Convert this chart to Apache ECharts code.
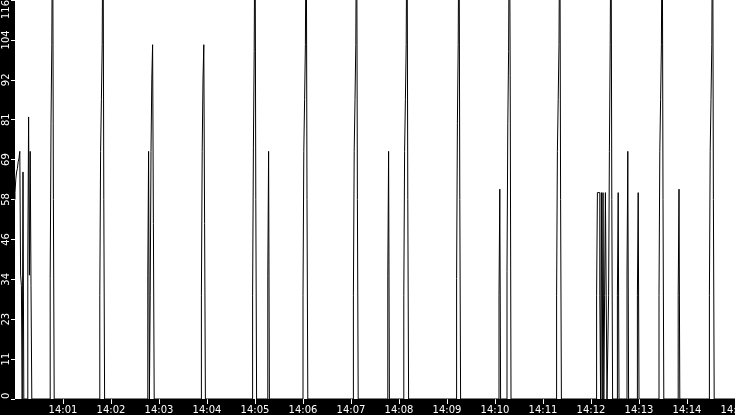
<!DOCTYPE html>
<html>
  <head>
    <meta charset="utf-8" />
    <script src="https://cdn.jsdelivr.net/npm/echarts@6/dist/echarts.min.js"></script>
    <style>
      html, body { margin: 0; padding: 0; background: #000; }
    </style>
  </head>
  <body>
    <div id="main" style="width: 735px;height:415px;"></div>
    <script type="text/javascript">
      // seconds after 14:00:00 and the reading at that second (line drops to 0 between bursts)
      var secs = [
        0, 1, 2, 3, 4, 5, 6, 7, 8, 9, 10, 11, 12,
        16, 17, 18, 19, 20, 21, 22,
        44, 45, 46, 47, 48, 49, 50,
        106, 107, 108, 109, 110, 111, 112, 113,
        166, 167, 168, 169, 170, 171, 172, 173, 174, 175,
        233, 234, 235, 236, 237, 238, 239,
        297, 298, 299, 300, 301, 302, 303,
        316, 317, 318, 319,
        360, 361, 362, 363, 364, 365, 366, 367,
        423, 424, 425, 426, 427, 428, 429, 430,
        466, 467, 468, 469,
        486, 487, 488, 489, 490, 491, 492, 493,
        552, 553, 554, 555, 556, 557, 558,
        605, 606, 607, 608,
        615, 616, 617, 618, 619, 620, 621,
        677, 678, 679, 680, 681, 682, 683, 684,
        727, 728, 729, 730, 731, 732, 733, 734, 735, 736, 737, 738, 739, 740, 741,
        742, 743, 744, 745, 746, 747, 748,
        753, 754, 755, 756,
        765, 766, 767, 768,
        778, 779, 780, 781,
        805, 806, 807, 808, 809, 810, 811, 812,
        829, 830, 831, 832,
        868, 869, 870, 871, 872, 873, 874, 875,
        900
      ];
      var vals = [
        58, 60, 64, 66, 67, 69, 70, 72, 36, 33, 0, 66, 0,
        0, 41, 82, 36, 72, 33, 0,
        0, 35, 80, 103, 150, 58, 0,
        0, 30, 72, 87, 103, 150, 58, 0,
        0, 36, 72, 0, 30, 72, 93, 103, 51, 0,
        0, 30, 72, 93, 103, 51, 0,
        0, 30, 73, 101, 150, 58, 0,
        0, 36, 72, 0,
        0, 30, 72, 87, 103, 150, 58, 0,
        0, 30, 72, 87, 103, 150, 58, 0,
        0, 36, 72, 0,
        0, 30, 72, 87, 103, 150, 58, 0,
        0, 35, 80, 103, 150, 58, 0,
        0, 30, 61, 0,
        0, 37, 80, 101, 150, 94, 0,
        0, 30, 72, 87, 103, 150, 58, 0,
        0, 30, 60, 60, 60, 30, 0, 60, 0, 60, 0, 30, 60, 30, 0,
        0, 30, 72, 103, 150, 58, 0,
        0, 30, 60, 0,
        0, 36, 72, 0,
        0, 30, 60, 0,
        0, 30, 72, 87, 103, 150, 58, 0,
        0, 30, 61, 0,
        0, 30, 72, 87, 103, 150, 58, 0,
        0
      ];

      var yMax = 116;
      var yStep = 11.6;
      var startHour = 14;

      var points = secs.map(function (s, i) { return [s, vals[i]]; });

      var myChart = echarts.init(document.getElementById('main'));

      var option = {
        backgroundColor: '#000',
        animation: false,
        grid: {
          left: 15,
          right: 0,
          top: 0,
          bottom: 16,
          containLabel: false,
          outerBoundsMode: 'none',
          show: true,
          backgroundColor: '#fff',
          borderWidth: 0
        },
        xAxis: {
          type: 'value',
          min: 0,
          max: 900,
          interval: 60,
          axisLine: { show: false },
          axisTick: { show: true, length: 5, lineStyle: { color: '#fff' } },
          splitLine: { show: false },
          axisLabel: {
            color: '#fff',
            fontFamily: 'DejaVu Sans',
            fontSize: 10,
            margin: 6,
            hideOverlap: false,
            showMinLabel: false,
            showMaxLabel: true,
            formatter: function (v) {
              var m = Math.round(v / 60);
              return startHour + ':' + (m < 10 ? '0' + m : m);
            }
          }
        },
        yAxis: {
          type: 'value',
          min: 0,
          max: yMax,
          interval: yStep,
          axisLine: { show: false },
          axisTick: { show: true, length: 4, lineStyle: { color: '#fff' } },
          splitLine: { show: false },
          axisLabel: {
            color: '#fff',
            fontFamily: 'DejaVu Sans',
            fontSize: 10,
            rotate: 90,
            margin: 4,
            showMinLabel: true,
            showMaxLabel: true,
            alignMinLabel: 'left',
            alignMaxLabel: 'right',
            formatter: function (v) {
              return String(Math.floor(v + 1e-6));
            }
          }
        },
        series: [
          {
            type: 'line',
            data: points,
            step: 'start',
            symbol: 'none',
            clip: true,
            lineStyle: { color: '#000', width: 1 }
          }
        ]
      };

      myChart.setOption(option);
    </script>
  </body>
</html>
